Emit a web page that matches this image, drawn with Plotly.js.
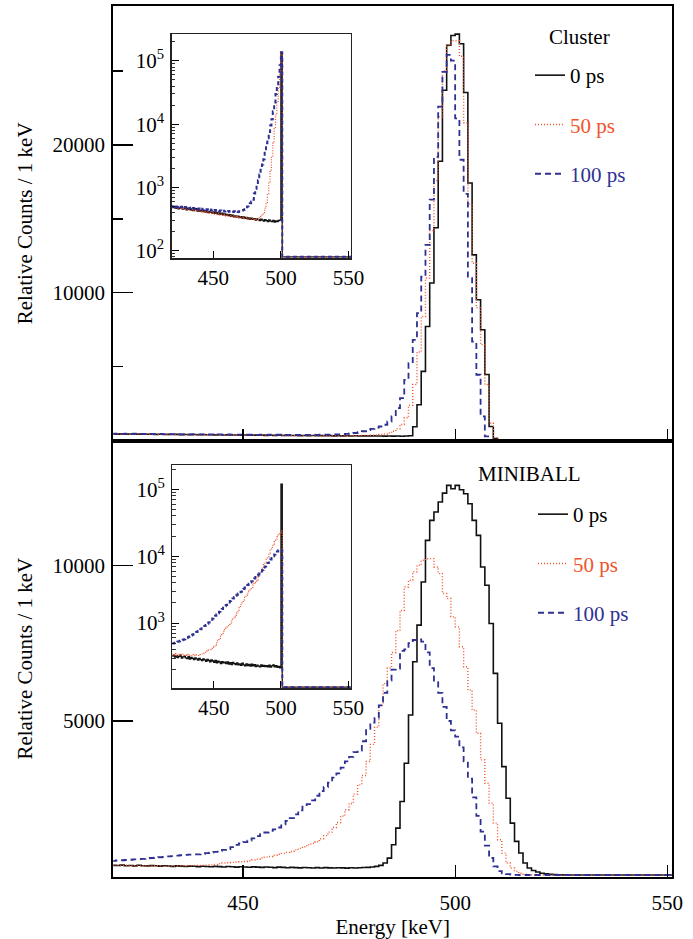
<!DOCTYPE html>
<html>
<head>
<meta charset="utf-8">
<script src="https://cdn.plot.ly/plotly-3.0.1.min.js"></script>
<style>
html,body{margin:0;padding:0;background:#fff;}
#chart{width:693px;height:939px;}
</style>
</head>
<body>
<div id="chart"></div>
<script>
// ---------- data: 1 keV bins, left edge of first bin = 419 keV ----------
const binStart = 419;
const binWidth = 1;
const seriesNames = ['0 ps', '50 ps', '100 ps'];
const panelLabels = ['Cluster', 'MINIBALL'];
const xTickVals = [450, 500, 550];
const logTickVals = [100, 1000, 10000, 100000];
const logTickText = ['10<sup>2</sup>', '10<sup>3</sup>', '10<sup>4</sup>', '10<sup>5</sup>'];

// Cluster, main panel (linear)
const clusterMain0 = [455,448,460,442,452,438,447,440,432,445,
 428,436,421,430,418,426,412,422,409,417,
 403,412,398,406,392,401,388,395,383,390,
 378,386,372,380,368,375,362,371,358,366,
 352,361,348,356,343,352,340,347,336,344,
 333,341,329,338,326,334,322,331,319,328,
 316,325,313,322,311,319,308,317,306,314,
 330,940,2430,4690,7720,10670,14400,18900,23700,26750,
 27400,27500,26850,23550,17430,12570,9530,7500,4480,965,
 150,50,35,30,30,30,30,30,30,30,
 30,30,30,30,30,30,30,30,30,30,
 30,30,30,30,30,30,30,30,30,30,
 30,30,30,30,30,30,30,30,30,30,
 30,30,30];
const clusterMain50 = [462,450,455,447,458,441,450,436,446,430,
 440,425,434,420,429,415,424,411,419,405,
 414,400,409,395,404,391,399,386,394,382,
 389,377,384,372,379,368,374,363,370,359,
 365,354,361,350,356,346,352,342,348,339,
 344,336,341,333,338,330,336,334,340,348,
 358,372,390,415,450,520,640,800,1100,1550,
 2400,3800,6000,8400,11000,14200,17600,21900,25000,26700,
 27050,27050,26000,21500,16000,12000,9000,6500,3800,1200,
 200,45,32,30,30,30,30,30,30,30,
 30,30,30,30,30,30,30,30,30,30,
 30,30,30,30,30,30,30,30,30,30,
 30,30,30,30,30,30,30,30,30,30,
 30,30,30];
const clusterMain100 = [472,481,466,476,461,470,457,466,452,461,
 447,456,442,451,438,446,433,442,429,437,
 425,433,420,429,416,425,412,420,408,417,
 405,413,401,409,398,406,396,403,394,401,
 392,400,391,398,392,399,394,402,398,404,
 405,412,420,432,448,465,490,520,570,640,
 720,800,880,960,1080,1300,1650,2200,2880,4120,
 5250,6820,8630,11100,13250,16300,19200,22600,24950,26100,
 25700,21800,19000,16700,11000,6700,4460,1640,290,50,
 32,30,30,30,30,30,30,30,30,30,
 30,30,30,30,30,30,30,30,30,30,
 30,30,30,30,30,30,30,30,30,30,
 30,30,30,30,30,30,30,30,30,30,
 30,30,30];

// MINIBALL, main panel (linear)
const miniMain0 = [365,358,371,354,362,349,366,353,346,357,
 350,339,352,344,333,347,338,329,341,334,
 324,336,328,318,331,322,313,326,319,309,
 321,312,303,316,307,298,311,302,293,306,
 299,289,301,292,284,296,288,281,292,279,
 290,283,277,289,282,274,285,278,288,294,
 300,312,332,365,438,598,1026,1560,2414,3643,
 5192,6901,8077,9465,10801,11442,11709,12030,12318,12564,
 12457,12564,12425,12297,11976,11442,10961,9946,9359,8130,
 6528,4925,3536,2521,1720,1133,759,438,279,200,
 150,112,90,76,66,60,58,56,55,55,
 55,55,55,55,55,55,55,55,55,55,
 55,55,55,55,55,55,55,55,55,55,
 55,55,55];
const miniMain50 = [372,364,359,367,353,361,349,356,351,344,
 352,343,338,347,339,346,351,344,356,359,
 364,370,372,380,395,420,440,450,460,470,
 480,490,510,535,560,600,630,650,690,720,
 750,780,810,860,910,960,1030,1070,1120,1220,
 1320,1430,1580,1740,1950,2150,2350,2650,2950,3250,
 3700,4250,4800,5500,6200,6700,7200,7900,8550,9300,
 9520,9790,10000,10160,10213,10213,9946,9732,9092,8931,
 8344,8023,7382,6741,5993,5352,4605,3750,3002,2361,
 1720,1186,758,438,278,171,110,80,65,60,
 58,56,55,55,55,55,55,55,55,55,
 55,55,55,55,55,55,55,55,55,55,
 55,55,55,55,55,55,55,55,55,55,
 55,55,55];
const miniMain100 = [510,520,528,536,545,555,565,575,588,600,
 612,625,638,650,662,675,688,700,712,718,
 720,735,755,775,800,830,860,890,950,1020,
 1070,1110,1160,1230,1300,1370,1420,1470,1520,1580,
 1680,1790,1880,2000,2130,2250,2330,2450,2600,2750,
 2880,3020,3180,3320,3500,3700,3850,4000,4050,4350,
 4750,4950,5100,5500,5900,6300,6650,6680,7250,7300,
 7500,7600,7620,7550,7200,6700,6250,5900,5450,5000,
 4700,4500,4150,3700,3150,2550,1950,1450,1000,600,
 330,180,110,80,65,58,55,55,55,55,
 55,55,55,55,55,55,55,55,55,55,
 55,55,55,55,55,55,55,55,55,55,
 55,55,55,55,55,55,55,55,55,55,
 55,55,55];

// Cluster, inset (log); empty bins sit on the axis floor
const clusterIns0 = [490,478,502,468,486,459,476,492,455,471,
 461,444,470,449,438,456,431,446,461,424,
 441,419,436,414,431,409,426,399,416,404,
 394,411,389,401,379,396,374,391,369,381,
 364,376,359,371,349,366,344,356,339,351,
 334,346,329,341,324,336,319,331,314,326,
 314,321,304,319,309,299,316,304,294,311,
 299,289,306,294,288,301,284,296,289,300,
 305,137000,80,80,80,80,80,80,80,80,
 80,80,80,80,80,80,80,80,80,80,
 80,80,80,80,80,80,80,80,80,80,
 80,80,80,80,80,80,80,80,80,80,
 80,80,80,80,80,80,80,80,80,80,
 80,80,80];
const clusterIns50 = [484,497,473,489,462,481,470,455,478,463,
 450,466,441,458,436,449,428,443,419,437,
 424,412,430,407,421,398,415,402,393,408,
 386,398,377,392,371,386,366,378,360,372,
 356,367,350,362,345,356,340,351,336,346,
 331,342,326,337,322,333,318,328,314,324,
 311,320,306,316,310,330,345,365,400,470,
 580,800,1200,1900,3000,5000,8500,14000,22000,38000,
 70000,139000,80,80,80,80,80,80,80,80,
 80,80,80,80,80,80,80,80,80,80,
 80,80,80,80,80,80,80,80,80,80,
 80,80,80,80,80,80,80,80,80,80,
 80,80,80,80,80,80,80,80,80,80,
 80,80,80];
const clusterIns100 = [505,492,512,486,498,508,481,495,488,476,
 490,472,484,466,479,462,474,458,470,453,
 466,449,461,445,457,440,452,436,448,433,
 444,429,440,425,436,422,432,419,429,416,
 426,414,423,412,421,410,419,409,418,410,
 420,425,432,440,452,470,500,530,560,600,
 640,800,950,1100,1300,1600,1900,2300,2800,4000,
 5000,6000,7500,9500,12000,16000,22000,30000,40000,56000,
 85000,136000,80,80,80,80,80,80,80,80,
 80,80,80,80,80,80,80,80,80,80,
 80,80,80,80,80,80,80,80,80,80,
 80,80,80,80,80,80,80,80,80,80,
 80,80,80,80,80,80,80,80,80,80,
 80,80,80];

// MINIBALL, inset (log)
const miniIns0 = [322,331,309,326,304,317,333,299,312,321,
 301,294,316,289,306,296,284,301,291,279,
 296,284,274,291,281,269,286,276,264,281,
 271,259,276,254,269,262,249,266,254,261,
 249,263,244,256,239,259,247,239,253,237,
 246,234,251,237,229,246,231,241,227,243,
 229,239,224,236,227,221,237,225,233,223,
 231,221,235,219,229,237,221,231,217,226,
 215,120000,110,110,110,110,110,110,110,110,
 110,110,110,110,110,110,110,110,110,110,
 110,110,110,110,110,110,110,110,110,110,
 110,110,110,110,110,110,110,110,110,110,
 110,110,110,110,110,110,110,110,110,110,
 110,110,110];
const miniIns50 = [345,335,350,330,340,345,330,338,342,330,
 335,328,340,332,325,338,330,326,335,328,
 332,338,345,355,365,375,385,395,400,410,
 420,440,470,510,550,590,640,700,750,800,
 840,880,940,1000,1070,1150,1230,1320,1410,1560,
 1720,1900,2060,2230,2420,2620,2800,3000,3150,3400,
 3700,4000,4200,4430,4900,5500,6000,6800,7500,8200,
 9000,9800,11100,12300,13600,15000,16500,18000,19600,21000,
 22500,24000,110,110,110,110,110,110,110,110,
 110,110,110,110,110,110,110,110,110,110,
 110,110,110,110,110,110,110,110,110,110,
 110,110,110,110,110,110,110,110,110,110,
 110,110,110,110,110,110,110,110,110,110,
 110,110,110];
const miniIns100 = [495,500,510,515,525,535,545,555,565,575,
 590,605,620,635,650,670,690,710,735,760,
 785,810,840,870,905,940,980,1020,1070,1120,
 1175,1230,1290,1350,1410,1480,1550,1620,1700,1780,
 1860,1950,2040,2140,2240,2340,2440,2540,2650,2770,
 2800,2950,3100,3250,3400,3560,3720,3880,4050,4230,
 4430,4650,4880,5120,5350,5600,5900,6200,6550,7000,
 7450,7950,8400,8900,9400,10000,10600,11200,11800,12300,
 12400,12500,110,110,110,110,110,110,110,110,
 110,110,110,110,110,110,110,110,110,110,
 110,110,110,110,110,110,110,110,110,110,
 110,110,110,110,110,110,110,110,110,110,
 110,110,110,110,110,110,110,110,110,110,
 110,110,110];

// ---------- drawing ----------
const W = 693, H = 939;
const fx = p => p / W;
const fy = p => 1 - p / H;
const FONT = 'Liberation Serif, Times New Roman, serif';
const C0 = '#111111', C50 = '#f2532a', C100 = '#2e3192';

function edges(n) { const e = []; for (let i = 0; i <= n; i++) e.push(binStart + i * binWidth); return e; }
function steps(v) { return v.concat([v[v.length - 1]]); }

function hist(vals, xa, ya, line, name, legend, group, show) {
  return {
    type: 'scatter', mode: 'lines', x: edges(vals.length), y: steps(vals),
    xaxis: xa, yaxis: ya, line: Object.assign({ shape: 'hv' }, line),
    name: name, legend: legend, legendgroup: group, showlegend: show, hoverinfo: 'skip'
  };
}
const mainLine = [
  { color: C0, width: 1.6 },
  { color: C50, width: 1.4, dash: '1px,2px' },
  { color: C100, width: 1.8, dash: '6px,4px' }
];
const insLine = [
  { color: C0, width: 1.3 },
  { color: C50, width: 1.2, dash: '1px,1.6px' },
  { color: C100, width: 2.0, dash: '4px,3px' }
];
const legendNames = [
  seriesNames[0],
  '<span style="color:' + C50 + '">' + seriesNames[1] + '</span>',
  '<span style="color:' + C100 + '">' + seriesNames[2] + '</span>'
];

const clusterMain = [clusterMain0, clusterMain50, clusterMain100];
const miniMain = [miniMain0, miniMain50, miniMain100];
const clusterIns = [clusterIns0, clusterIns50, clusterIns100];
const miniIns = [miniIns0, miniIns50, miniIns100];

const traces = [];
clusterMain.forEach((v, i) => traces.push(hist(v, 'x', 'y', mainLine[i], legendNames[i], 'legend', 'c' + i, true)));
miniMain.forEach((v, i) => traces.push(hist(v, 'x2', 'y2', mainLine[i], legendNames[i], 'legend2', 'm' + i, true)));
clusterIns.forEach((v, i) => traces.push(hist(v, 'x3', 'y3', insLine[i], seriesNames[i], 'legend', 'ci' + i, false)));
miniIns.forEach((v, i) => traces.push(hist(v, 'x4', 'y4', insLine[i], seriesNames[i], 'legend2', 'mi' + i, false)));

const tf = { family: FONT, size: 21, color: '#000' };
const mainX = {
  range: [419.4, 551.2], domain: [fx(113.3), fx(672.3)],
  tickvals: xTickVals, ticks: 'inside', ticklen: 12, tickwidth: 1.3, tickcolor: '#000',
  showline: true, mirror: true, linewidth: 2, linecolor: '#000',
  showgrid: false, zeroline: false, tickfont: tf
};
const mainY = {
  ticks: 'inside', ticklen: 20, tickwidth: 1.3, tickcolor: '#000', tickformat: 'd',
  showline: true, mirror: true, linewidth: 2, linecolor: '#000',
  showgrid: false, zeroline: false, tickfont: tf, ticklabelstandoff: 2,
  title: { text: 'Relative Counts / 1 keV', font: tf, standoff: 14 }
};
const insX = {
  range: [419.3, 551.8], tickvals: xTickVals, ticks: 'inside', ticklen: 7, tickwidth: 1,
  tickcolor: '#000', showline: true, mirror: true, linewidth: 1.3, linecolor: '#222',
  showgrid: false, zeroline: false, tickfont: tf, ticklabelstandoff: 0
};
const insY = {
  type: 'log', tickvals: logTickVals, ticktext: logTickText, ticks: 'inside', ticklen: 7, tickwidth: 1,
  tickcolor: '#000', showline: true, mirror: true, linewidth: 1.3, linecolor: '#222',
  showgrid: false, zeroline: false, tickfont: tf, ticklabelstandoff: 2,
  minor: { ticks: 'inside', ticklen: 3.5, tickwidth: 0.8, tickcolor: '#000', showgrid: false,
    tickvals: [80, 90, 200, 300, 400, 500, 600, 700, 800, 900, 2000, 3000, 4000, 5000, 6000, 7000, 8000, 9000,
      20000, 30000, 40000, 50000, 60000, 70000, 80000, 90000, 200000] }
};

const layout = {
  width: W, height: H,
  margin: { l: 0, r: 0, t: 0, b: 0 },
  paper_bgcolor: '#fff', plot_bgcolor: 'rgba(0,0,0,0)',
  font: tf,
  xaxis: Object.assign({}, mainX, { anchor: 'y', showticklabels: false }),
  yaxis: Object.assign({}, mainY, {
    anchor: 'x', domain: [fy(440.7), fy(6)], range: [0, 29400], tickvals: [10000, 20000],
    minor: { tickvals: [5000, 15000, 25000], ticks: 'inside', ticklen: 10, tickwidth: 1.3, tickcolor: '#000', showgrid: false }
  }),
  xaxis2: Object.assign({}, mainX, {
    anchor: 'y2', ticklabelstandoff: 6,
    title: { text: 'Energy [keV]', font: tf, standoff: 4 }
  }),
  yaxis2: Object.assign({}, mainY, {
    anchor: 'x2', domain: [fy(876.7), fy(440.7)], range: [0, 14000], tickvals: [5000, 10000]
  }),
  xaxis3: Object.assign({}, insX, { anchor: 'y3', domain: [fx(171.7), fx(351)] }),
  yaxis3: Object.assign({}, insY, { anchor: 'x3', domain: [fy(258.3), fy(34.3)], range: [1.88, 5.42] }),
  xaxis4: Object.assign({}, insX, { anchor: 'y4', domain: [fx(172.3), fx(350.7)] }),
  yaxis4: Object.assign({}, insY, { anchor: 'x4', domain: [fy(688.3), fy(465.3)], range: [2.025, 5.36] }),
  legend: {
    x: fx(530), y: fy(55), xanchor: 'left', yanchor: 'top', bgcolor: 'rgba(0,0,0,0)',
    font: tf, traceorder: 'grouped', tracegroupgap: 19, itemwidth: 30, itemclick: false
  },
  legend2: {
    x: fx(533), y: fy(494), xanchor: 'left', yanchor: 'top', bgcolor: 'rgba(0,0,0,0)',
    font: tf, traceorder: 'grouped', tracegroupgap: 19, itemwidth: 30, itemclick: false
  },
  annotations: [
    { text: panelLabels[0], xref: 'paper', yref: 'paper', x: fx(547), y: fy(37), xanchor: 'left', yanchor: 'middle', showarrow: false, font: tf },
    { text: panelLabels[1], xref: 'paper', yref: 'paper', x: fx(476), y: fy(474), xanchor: 'left', yanchor: 'middle', showarrow: false, font: tf }
  ]
};

Plotly.newPlot('chart', traces, layout, { displayModeBar: false, staticPlot: true });
</script>
</body>
</html>
